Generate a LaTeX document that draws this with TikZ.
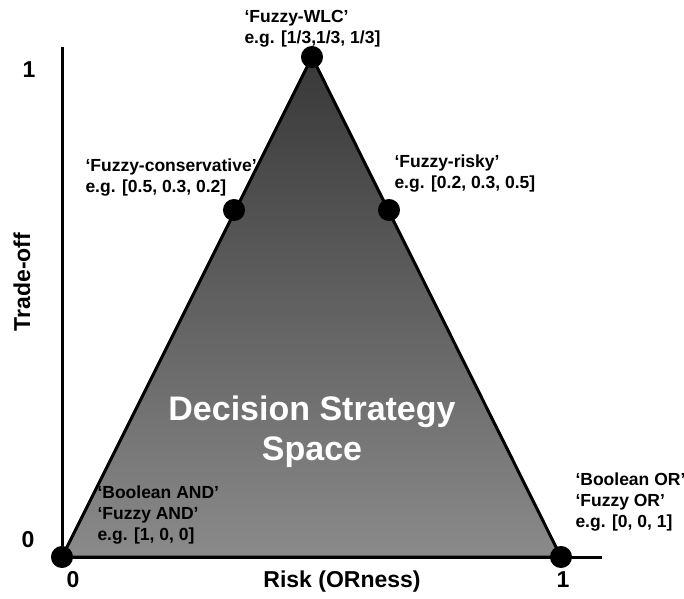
\documentclass[tikz,border=0pt]{standalone}
\usepackage{fontspec}
\setmainfont{Liberation Sans}
\usetikzlibrary{positioning}
\definecolor{spacetop}{HTML}{383838}
\definecolor{spacebot}{HTML}{8A8A8A}
\tikzset{%
   dot/.style={circle, inner sep=0mm, outer sep=0mm, minimum size=19pt, draw=black, fill=black},
   lbl/.style={anchor=base west, inner sep=0pt, align=left, font=\bfseries\fontsize{17.5}{21}\selectfont},
   axnum/.style={inner sep=0pt, font=\bfseries\fontsize{23}{27}\selectfont},
   axtitle/.style={inner sep=0pt, font=\bfseries\fontsize{23}{27}\selectfont},
   bigtext/.style={anchor=base, inner sep=0pt, align=center, text=white, font=\bfseries\fontsize{34}{40}\selectfont},
}

\begin{document}
\begin{tikzpicture}[x=1pt, y=-1pt, line width=3pt]
   \useasboundingbox (0,0) rectangle (684,598);
   % corners of the strategy space
   \coordinate (and) at (62,557);
   \coordinate (or) at (561,557);
   \coordinate (wlc) at (312,57);
   \coordinate (ytop) at (62,47);
   \coordinate (xend) at (602,557);
   \draw[top color=spacetop, bottom color=spacebot] (and) -- (or) -- (wlc) -- cycle;
   \draw (and) -- (ytop);
   \draw (and) -- (xend);
   \node[bigtext] (dss) at (312,460) {Decision Strategy\\Space};
   % strategies
   \node[dot] (dand) at (and) {};
   \node[dot] (dor) at (or) {};
   \node[dot] (dwlc) at (wlc) {};
   \node[dot] (dcons) at (234,210) {};
   \node[dot] (drisky) at (389,210) {};
   % labels, placed at the baseline of their last line
   \node[lbl] (lwlc) at (243,43) {‘Fuzzy-WLC’\\e.g. [1/3,1/3, 1/3]};
   \node[lbl] (lcons) at (84,192) {‘Fuzzy-conservative’\\e.g. [0.5, 0.3, 0.2]};
   \node[lbl] (lrisky) at (393,188) {‘Fuzzy-risky’\\e.g. [0.2, 0.3, 0.5]};
   \node[lbl] (land) at (96,540) {‘Boolean AND’\\‘Fuzzy AND’\\e.g. [1, 0, 0]};
   \node[lbl] (lor) at (574,527) {‘Boolean OR’\\‘Fuzzy OR’\\e.g. [0, 0, 1]};
   % axes
   \node[axnum] (y1) at (29,70) {1};
   \node[axnum] (y0) at (28,540) {0};
   \node[axnum] (x0) at (73,580) {0};
   \node[axnum] (x1) at (563,580) {1};
   \node[axtitle] (xt) at (342,582) {Risk (ORness)};
   \node[axtitle, rotate=90] (yt) at (22,282) {Trade-off};
\end{tikzpicture}
\end{document}
